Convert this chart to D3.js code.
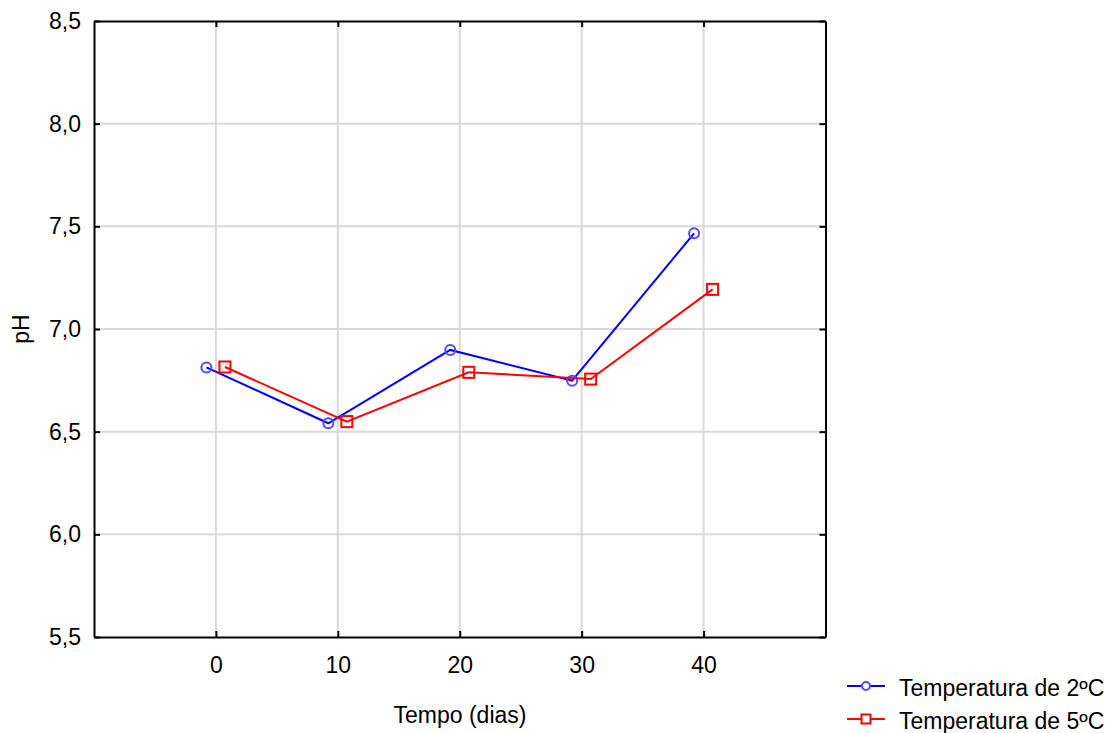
<!DOCTYPE html>
<html>
<head>
<meta charset="utf-8">
<script src="https://cdn.jsdelivr.net/npm/d3@7"></script>
<style>
  body { margin: 0; background: #fff; }
  svg { display: block; font-family: Arial, "Liberation Sans", sans-serif; }
</style>
</head>
<body>
<svg id="chart" width="1116" height="733"></svg>
<script>
// pH over storage time at two temperatures
const days = [0, 10, 20, 30, 40];
const ph2C = [6.813, 6.541, 6.898, 6.748, 7.466];
const ph5C = [6.815, 6.549, 6.789, 6.756, 7.193];
const seriesNames = ["Temperatura de 2ºC", "Temperatura de 5ºC"];
const xTicks = [0, 10, 20, 30, 40];
const yTicks = [5.5, 6.0, 6.5, 7.0, 7.5, 8.0, 8.5];

const svg = d3.select("#chart");
const W = 1116, H = 733;
const margin = { left: 94, top: 21, right: W - 825.5, bottom: H - 637 };

const x = d3.scaleLinear().domain([-10, 50]).range([margin.left, W - margin.right]);
const y = d3.scaleLinear().domain([5.5, 8.5]).range([H - margin.bottom, margin.top]);

const fmt = d => d3.format(".1f")(d).replace(".", ",");
const FONT = "Arial, 'Liberation Sans', sans-serif";

// grid
const grid = svg.append("g");
grid.selectAll("line.v").data(xTicks).join("line")
  .attr("x1", d => x(d)).attr("x2", d => x(d))
  .attr("y1", y(5.5)).attr("y2", y(8.5))
  .attr("stroke", "#d9d9d9").attr("stroke-width", 2);
grid.selectAll("line.h").data(yTicks.slice(1, -1)).join("line")
  .attr("y1", d => y(d)).attr("y2", d => y(d))
  .attr("x1", x(-10)).attr("x2", x(50))
  .attr("stroke", "#d9d9d9").attr("stroke-width", 2);

// axes with inward ticks
const axisStyle = g => {
  g.attr("font-family", FONT);
  g.select(".domain").attr("stroke", "#000").attr("stroke-width", 2);
  g.selectAll(".tick line").attr("stroke", "#000").attr("stroke-width", 2);
  g.selectAll(".tick text").attr("fill", "#000")
    .style("font-size", "23px").style("font-family", FONT);
};

svg.append("g").attr("transform", `translate(0,${y(5.5)})`)
  .call(d3.axisBottom(x).tickValues(xTicks).tickSize(-6).tickSizeOuter(0).tickPadding(20).tickFormat(d3.format("d")))
  .call(axisStyle);
svg.append("g").attr("transform", `translate(0,${y(8.5)})`)
  .call(d3.axisTop(x).tickValues(xTicks).tickSize(-6).tickSizeOuter(0).tickFormat(""))
  .call(axisStyle);
svg.append("g").attr("transform", `translate(${x(-10)},0)`)
  .call(d3.axisLeft(y).tickValues(yTicks).tickSize(-6).tickSizeOuter(0).tickPadding(13).tickFormat(fmt))
  .call(axisStyle);
svg.append("g").attr("transform", `translate(${x(50)},0)`)
  .call(d3.axisRight(y).tickValues(yTicks).tickSize(-6).tickSizeOuter(0).tickFormat(""))
  .call(axisStyle);

// axis titles
svg.append("text").attr("x", 460).attr("y", 723)
  .attr("text-anchor", "middle").attr("font-size", 23).text("Tempo (dias)");
svg.append("text").attr("transform", `translate(29,${y(7.0)}) rotate(-90)`)
  .attr("text-anchor", "middle").attr("font-size", 23).text("pH");

// series
const series = [
  { name: seriesNames[0], values: ph2C, color: "#0000ff", marker: "#4d4dff", shape: "circle", dx: -0.78 },
  { name: seriesNames[1], values: ph5C, color: "#ff0000", marker: "#ff0000", shape: "square", dx: 0.74 }
];

const line = d3.line().x(d => x(d[0])).y(d => y(d[1]));

series.forEach(s => {
  const pts = days.map((d, i) => [d + s.dx, s.values[i]]);
  svg.append("path").datum(pts).attr("d", line)
    .attr("fill", "none").attr("stroke", s.color).attr("stroke-width", 2);
  if (s.shape === "circle") {
    svg.selectAll(null).data(pts).join("circle")
      .attr("cx", d => x(d[0])).attr("cy", d => y(d[1])).attr("r", 5)
      .attr("fill", "none").attr("stroke", s.marker).attr("stroke-width", 2);
  } else {
    svg.selectAll(null).data(pts).join("rect")
      .attr("x", d => x(d[0]) - 5.5).attr("y", d => y(d[1]) - 5.5)
      .attr("width", 11).attr("height", 11)
      .attr("fill", "none").attr("stroke", s.marker).attr("stroke-width", 2);
  }
});

// legend
const legend = svg.append("g");
series.forEach((s, i) => {
  const ly = 686 + i * 33;
  legend.append("line").attr("x1", 847).attr("x2", 885).attr("y1", ly).attr("y2", ly)
    .attr("stroke", s.color).attr("stroke-width", 2);
  if (s.shape === "circle") {
    legend.append("circle").attr("cx", 866).attr("cy", ly).attr("r", 4)
      .attr("fill", "#fff").attr("stroke", s.marker).attr("stroke-width", 2);
  } else {
    legend.append("rect").attr("x", 861.5).attr("y", ly - 4.5).attr("width", 9).attr("height", 9)
      .attr("fill", "#fff").attr("stroke", s.marker).attr("stroke-width", 2);
  }
  legend.append("text").attr("x", 899).attr("y", ly + 10)
    .attr("font-size", 23).text(s.name);
});
</script>
</body>
</html>
